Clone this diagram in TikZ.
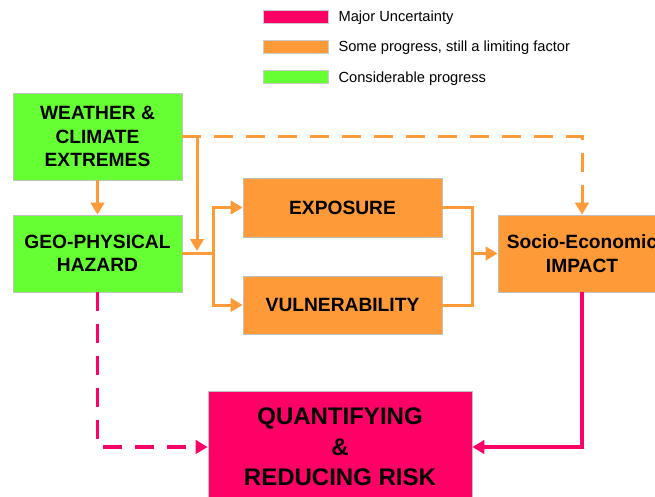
\documentclass[tikz,border=0pt]{standalone}
\usepackage{fontspec}
\setmainfont{Liberation Sans}
\usetikzlibrary{arrows.meta, positioning}
\definecolor{RiskPink}{HTML}{FF0066}
\definecolor{RiskOrange}{HTML}{FF9A38}
\definecolor{RiskGreen}{HTML}{66FF33}

\begin{document}
\begin{tikzpicture}[x=0.75pt, y=-0.75pt, node distance=7.5pt,
    box/.style={rectangle, draw=black!25, line width=0.5pt, align=center, inner sep=2pt, font=\bfseries\fontsize{14.4}{17.5}\selectfont},
    key/.style={rectangle, draw=black!20, line width=0.4pt, minimum width=48.75pt, minimum height=9.75pt, inner sep=0pt},
    keytext/.style={font=\fontsize{11}{13}\selectfont, inner sep=0pt, yshift=-1pt},
    oflow/.style={draw=RiskOrange, line width=2.25pt},
    pflow/.style={draw=RiskPink, line width=2.6pt},
    longdash/.style={dash pattern=on 14.25pt off 9.75pt},
    headed/.style={-{Triangle[length=9pt, width=10pt]}}]
        \useasboundingbox (0,0) rectangle (655,496);

        % Legend
        \node[key, fill=RiskPink] (keyA) at (295.5,16.5) {};
        \node[key, fill=RiskOrange] (keyB) at (295.5,46.5) {};
        \node[key, fill=RiskGreen] (keyC) at (295.5,77) {};
        \node[keytext, right=of keyA] (keyAtxt) {Major Uncertainty};
        \node[keytext, right=of keyB] (keyBtxt) {Some progress, still a limiting factor};
        \node[keytext, right=of keyC] (keyCtxt) {Considerable progress};

        % Boxes
        \node[box, fill=RiskGreen, minimum width=126.75pt, minimum height=65.25pt] (weather) at (97.5,136.5) {WEATHER \&\\CLIMATE\\EXTREMES};
        \node[box, fill=RiskGreen, minimum width=126.75pt, minimum height=57.75pt] (hazard) at (97.5,253.5) {GEO-PHYSICAL\\HAZARD};
        \node[box, fill=RiskOrange, minimum width=149.25pt, minimum height=44.25pt] (exposure) at (342.5,207.5) {EXPOSURE};
        \node[box, fill=RiskOrange, minimum width=149.25pt, minimum height=43.5pt] (vuln) at (342.5,305) {VULNERABILITY};
        \node[box, fill=RiskOrange, minimum width=126pt, minimum height=57.75pt] (impact) at (582,253.5) {Socio-Economic\\IMPACT};
        \node[box, fill=RiskPink, minimum width=198pt, minimum height=84pt, font=\bfseries\fontsize{18}{23}\selectfont] (risk) at (340,447) {QUANTIFYING\\\&\\REDUCING RISK};

        % Junctions
        \coordinate (drop) at (197,251);
        \coordinate (split) at (213,253.5);
        \coordinate (merge) at (472,253.5);

        % Orange connectors
        \draw[oflow, headed] (weather) -- (hazard);
        \draw[oflow, headed] (weather.east) -| (drop);
        \draw[oflow, headed, longdash] (weather.east) -| (impact.north);
        \draw[oflow] (hazard.east) -- (split);
        \draw[oflow, headed] (split) |- (exposure.west);
        \draw[oflow, headed] (split) |- (vuln.west);
        \draw[oflow] (exposure.east) -| (merge);
        \draw[oflow] (vuln.east) -| (merge);
        \draw[oflow, headed] (merge) -- (impact.west);

        % Pink connectors
        \draw[pflow, headed] (impact.south) |- (risk.east);
        \draw[pflow, headed, longdash] (hazard.south) |- (risk.west);
    \end{tikzpicture}
\end{document}
